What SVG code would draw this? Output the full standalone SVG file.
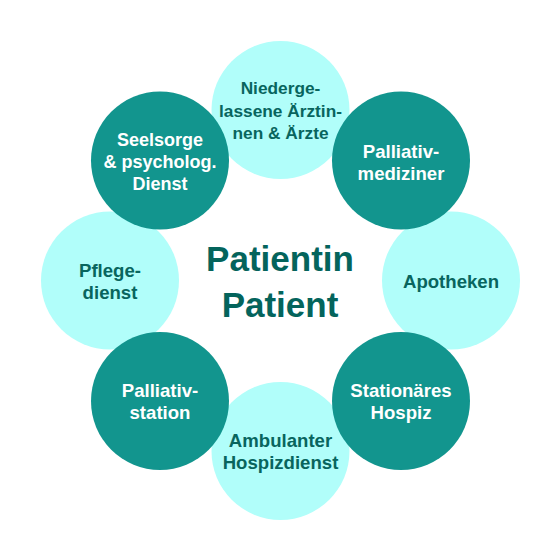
<svg xmlns="http://www.w3.org/2000/svg" width="560" height="560" viewBox="0 0 560 560">
<style>
.light{fill:#b1fefa}
.dark{fill:#12958e}
text{font-family:"Liberation Sans",Arial,sans-serif;font-weight:bold;text-anchor:middle}
.tl{fill:#08655e;font-size:18.6px}
.td{fill:#ffffff;font-size:18.6px}
.sm{font-size:17.3px}
.md{font-size:18px}
.center{fill:#04645c;font-size:35px}
</style>
<rect width="560" height="560" fill="#ffffff"/>
<g id="connectors"/>
<g id="n-aerzte">
<circle class="light" cx="280.5" cy="110" r="69"/>
<text class="tl sm" x="280.5" y="94">Niederge-</text>
<text class="tl sm" x="280.5" y="116.5">lassene Ärztin-</text>
<text class="tl sm" x="280.5" y="139">nen &amp; Ärzte</text>
</g>
<g id="n-apotheken">
<circle class="light" cx="451" cy="280.5" r="69"/>
<text class="tl" x="451" y="287.5">Apotheken</text>
</g>
<g id="n-ambulant">
<circle class="light" cx="280.5" cy="451" r="69"/>
<text class="tl" x="280.5" y="447">Ambulanter</text>
<text class="tl" x="280.5" y="469">Hospizdienst</text>
</g>
<g id="n-pflege">
<circle class="light" cx="110" cy="280.5" r="69"/>
<text class="tl" x="110" y="276.5">Pflege-</text>
<text class="tl" x="110" y="298.5">dienst</text>
</g>
<g id="n-palliativmed">
<circle class="dark" cx="401" cy="160.5" r="69"/>
<text class="td" x="401" y="157.5">Palliativ-</text>
<text class="td" x="401" y="179.5">mediziner</text>
</g>
<g id="n-hospiz">
<circle class="dark" cx="401" cy="401" r="69"/>
<text class="td" x="401" y="397">Stationäres</text>
<text class="td" x="401" y="419">Hospiz</text>
</g>
<g id="n-palliativstation">
<circle class="dark" cx="160" cy="401" r="69"/>
<text class="td" x="160" y="397">Palliativ-</text>
<text class="td" x="160" y="419">station</text>
</g>
<g id="n-seelsorge">
<circle class="dark" cx="160" cy="160.5" r="69"/>
<text class="td md" x="160" y="146">Seelsorge</text>
<text class="td md" x="160" y="168">&amp; psycholog.</text>
<text class="td md" x="160" y="190">Dienst</text>
</g>
<g id="n-patient">
<text class="center" x="280" y="271">Patientin</text>
<text class="center" x="280" y="317">Patient</text>
</g>
</svg>
